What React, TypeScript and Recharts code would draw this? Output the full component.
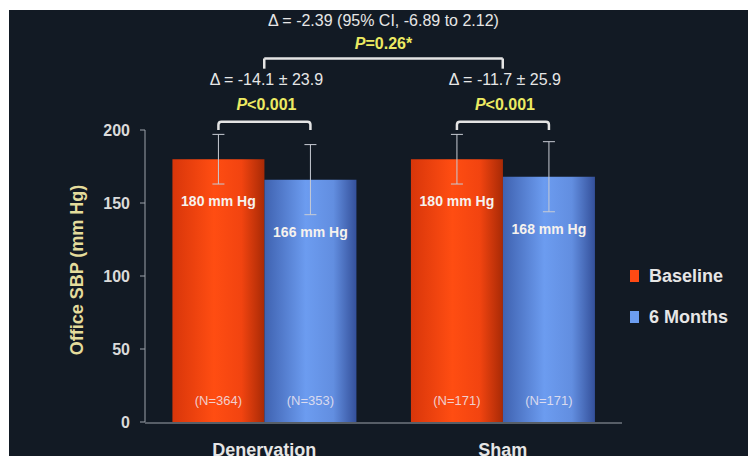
import React from "react";
import {
  BarChart,
  Bar,
  XAxis,
  YAxis,
  ErrorBar,
  LabelList,
  Legend,
  ReferenceLine,
} from "recharts";

const categories = ["Denervation", "Sham"];
const baselineValues = [180, 180];
const sixMonthValues = [166, 168];
const baselineErrors = [17, 17];
const sixMonthErrors = [24, 24];
const baselineCounts = ["(N=364)", "(N=171)"];
const sixMonthCounts = ["(N=353)", "(N=171)"];
const withinDeltas = ["Δ = -14.1 ± 23.9", "Δ = -11.7 ± 25.9"];
const withinP = ["P<0.001", "P<0.001"];
const betweenDelta = "Δ = -2.39 (95% CI, -6.89 to 2.12)";
const betweenP = "P=0.26*";
const yTicks = [0, 50, 100, 150, 200];
const edgeTicks = [0, 1, 2];
const seriesNames = ["Baseline", "6 Months"];
const legendColors = ["#ff4a14", "#6c9df0"];

const data = categories.map((name, i) => ({
  name,
  baseline: baselineValues[i],
  sixMonths: sixMonthValues[i],
  baselineErr: baselineErrors[i],
  sixMonthsErr: sixMonthErrors[i],
  baselineN: baselineCounts[i],
  sixMonthsN: sixMonthCounts[i],
}));

const FONT = "Liberation Sans, Arial, sans-serif";
const TEXT = "#e6e6e6";
const YELLOW = "#ecea62";
const BRACKET = "#e4e4e4";
const AXIS = "#9ca2aa";

// LabelList props moved into viewBox in recharts 3
const box = (props: any) => {
  const vb = props.viewBox || props;
  return { x: vb.x, y: vb.y, width: vb.width, height: vb.height };
};

// italic P, rest upright
const pText = (s: string) => (
  <>
    <tspan fontStyle="italic">{s.slice(0, 1)}</tspan>
    <tspan>{s.slice(1)}</tspan>
  </>
);

const valueLabel = (offset: number) => (props: any) => {
  const { x, y, width } = box(props);
  return (
    <text
      x={x + width / 2}
      y={y + offset}
      textAnchor="middle"
      dominantBaseline="central"
      fill="#f6f2ee"
      fontSize={14}
      fontWeight="bold"
      fontFamily={FONT}
    >
      {`${props.value} mm Hg`}
    </text>
  );
};

const countLabel = (props: any) => {
  const { x, y, width, height } = box(props);
  return (
    <text
      x={x + width / 2}
      y={y + height - 22}
      textAnchor="middle"
      dominantBaseline="central"
      fill="#f0e8f0"
      fillOpacity={0.85}
      fontSize={13}
      fontFamily={FONT}
    >
      {props.value}
    </text>
  );
};

// bracket between the two bars of one group, with delta and P above
const withinBracket = (props: any) => {
  const { x, y, width, height } = box(props);
  const i = props.index ?? 0;
  const ppu = height / props.value;
  const base = y + height;
  const at = (v: number) => base - v * ppu;
  const c1 = x + width / 2;
  const c2 = x + width * 1.5;
  const top = at(205.6);
  const leg = at(200);
  const r = 3;
  const mid = (c1 + c2) / 2;
  return (
    <g>
      <path
        d={`M${c1},${leg} V${top + r} Q${c1},${top} ${c1 + r},${top} H${c2 - r} Q${c2},${top} ${c2},${top + r} V${leg}`}
        fill="none"
        stroke={BRACKET}
        strokeWidth={2.5}
      />
      <text x={mid + 2} y={at(234.7)} textAnchor="middle" dominantBaseline="central" fill={TEXT} fontSize={16} fontFamily={FONT}>
        {withinDeltas[i]}
      </text>
      <text x={mid + 2} y={at(217.6)} textAnchor="middle" dominantBaseline="central" fill={YELLOW} fontSize={16} fontWeight="bold" fontFamily={FONT}>
        {pText(withinP[i])}
      </text>
    </g>
  );
};

const betweenLabel = (props: any) => {
  const vb = props.viewBox;
  const cx = vb.x + vb.width / 2;
  return (
    <g>
      <text x={cx} y={vb.y - 15} textAnchor="middle" dominantBaseline="central" fill={YELLOW} fontSize={16} fontWeight="bold" fontFamily={FONT}>
        {pText(betweenP)}
      </text>
      <text x={cx} y={vb.y - 38} textAnchor="middle" dominantBaseline="central" fill={TEXT} fontSize={16} fontFamily={FONT}>
        {betweenDelta}
      </text>
    </g>
  );
};

const yLabel = (props: any) => {
  const vb = props.viewBox;
  const cx = vb.x + 68;
  const cy = vb.y + vb.height / 2 - 6;
  return (
    <text
      x={cx}
      y={cy}
      transform={`rotate(-90 ${cx} ${cy})`}
      textAnchor="middle"
      dominantBaseline="central"
      fill="#e4dc9c"
      fontSize={18}
      fontWeight="bold"
      fontFamily={FONT}
    >
      Office SBP (mm Hg)
    </text>
  );
};

const renderLegend = () => (
  <div style={{ fontFamily: FONT }}>
    {seriesNames.map((name, i) => (
      <div key={name} style={{ display: "flex", alignItems: "center", height: 20, marginBottom: 21 }}>
        <span style={{ width: 9, height: 12, background: legendColors[i], marginRight: 10 }} />
        <span style={{ color: TEXT, fontSize: 18, fontWeight: "bold" }}>{name}</span>
      </div>
    ))}
  </div>
);

export default function App() {
  return (
    <div style={{ position: "absolute", left: 0, top: 0, width: 748, height: 456, background: "#ffffff" }}>
      <div style={{ position: "absolute", left: 9, top: 10, width: 739, height: 446, background: "#121a24" }}>
        <BarChart
          width={739}
          height={446}
          data={data}
          margin={{ top: 120, right: 126, bottom: 0, left: 0 }}
          barGap={0}
          barCategoryGap="11.5%"
        >
          <defs>
            <linearGradient id="gradBase" x1="0" y1="0" x2="1" y2="0">
              <stop offset="0%" stopColor="#d8360a" />
              <stop offset="45%" stopColor="#ff4d12" />
              <stop offset="75%" stopColor="#f24410" />
              <stop offset="100%" stopColor="#a82a06" />
            </linearGradient>
            <linearGradient id="gradSix" x1="0" y1="0" x2="1" y2="0">
              <stop offset="0%" stopColor="#3f62b0" />
              <stop offset="45%" stopColor="#6c9cf0" />
              <stop offset="75%" stopColor="#628ee0" />
              <stop offset="100%" stopColor="#34509a" />
            </linearGradient>
          </defs>
          <XAxis
            xAxisId="edge"
            type="number"
            dataKey="edge"
            domain={[0, 2]}
            allowDataOverflow
            ticks={edgeTicks}
            tick={false}
            tickSize={6}
            height={33}
            stroke={AXIS}
          />
          <XAxis
            xAxisId="cat"
            dataKey="name"
            axisLine={false}
            tickLine={false}
            tickSize={0}
            tickMargin={21}
            height={1}
            interval={0}
            tick={{ fill: TEXT, fontSize: 18, fontWeight: "bold", fontFamily: FONT }}
          />
          <YAxis
            domain={[0, 200]}
            ticks={yTicks}
            width={136}
            tickSize={5}
            tickMargin={10}
            stroke={AXIS}
            tick={{ fill: "#dadada", fontSize: 16, fontWeight: "bold", fontFamily: FONT }}
            label={{ content: yLabel }}
          />
          <Legend
            layout="vertical"
            align="center"
            verticalAlign="middle"
            content={renderLegend}
            wrapperStyle={{ left: 621, top: 256, width: 117 }}
          />
          <Bar xAxisId="cat" dataKey="baseline" name={seriesNames[0]} fill="url(#gradBase)" isAnimationActive={false}>
            <ErrorBar dataKey="baselineErr" width={6} stroke="#c8ccd4" strokeWidth={1} direction="y" />
            <LabelList dataKey="baseline" content={valueLabel(42)} />
            <LabelList dataKey="baselineN" content={countLabel} />
            <LabelList dataKey="baseline" content={withinBracket} />
          </Bar>
          <Bar xAxisId="cat" dataKey="sixMonths" name={seriesNames[1]} fill="url(#gradSix)" isAnimationActive={false}>
            <ErrorBar dataKey="sixMonthsErr" width={6} stroke="#c8ccd4" strokeWidth={1} direction="y" />
            <LabelList dataKey="sixMonths" content={valueLabel(52)} />
            <LabelList dataKey="sixMonthsN" content={countLabel} />
          </Bar>
          <ReferenceLine
            xAxisId="cat"
            ifOverflow="visible"
            segment={[{ x: categories[0], y: 249 }, { x: categories[1], y: 249 }]}
            stroke={BRACKET}
            strokeWidth={2.5}
            label={{ content: betweenLabel }}
          />
          <ReferenceLine
            xAxisId="cat"
            ifOverflow="visible"
            segment={[{ x: categories[0], y: 242 }, { x: categories[0], y: 249 }]}
            stroke={BRACKET}
            strokeWidth={2.5}
          />
          <ReferenceLine
            xAxisId="cat"
            ifOverflow="visible"
            segment={[{ x: categories[1], y: 242 }, { x: categories[1], y: 249 }]}
            stroke={BRACKET}
            strokeWidth={2.5}
          />
        </BarChart>
      </div>
    </div>
  );
}
